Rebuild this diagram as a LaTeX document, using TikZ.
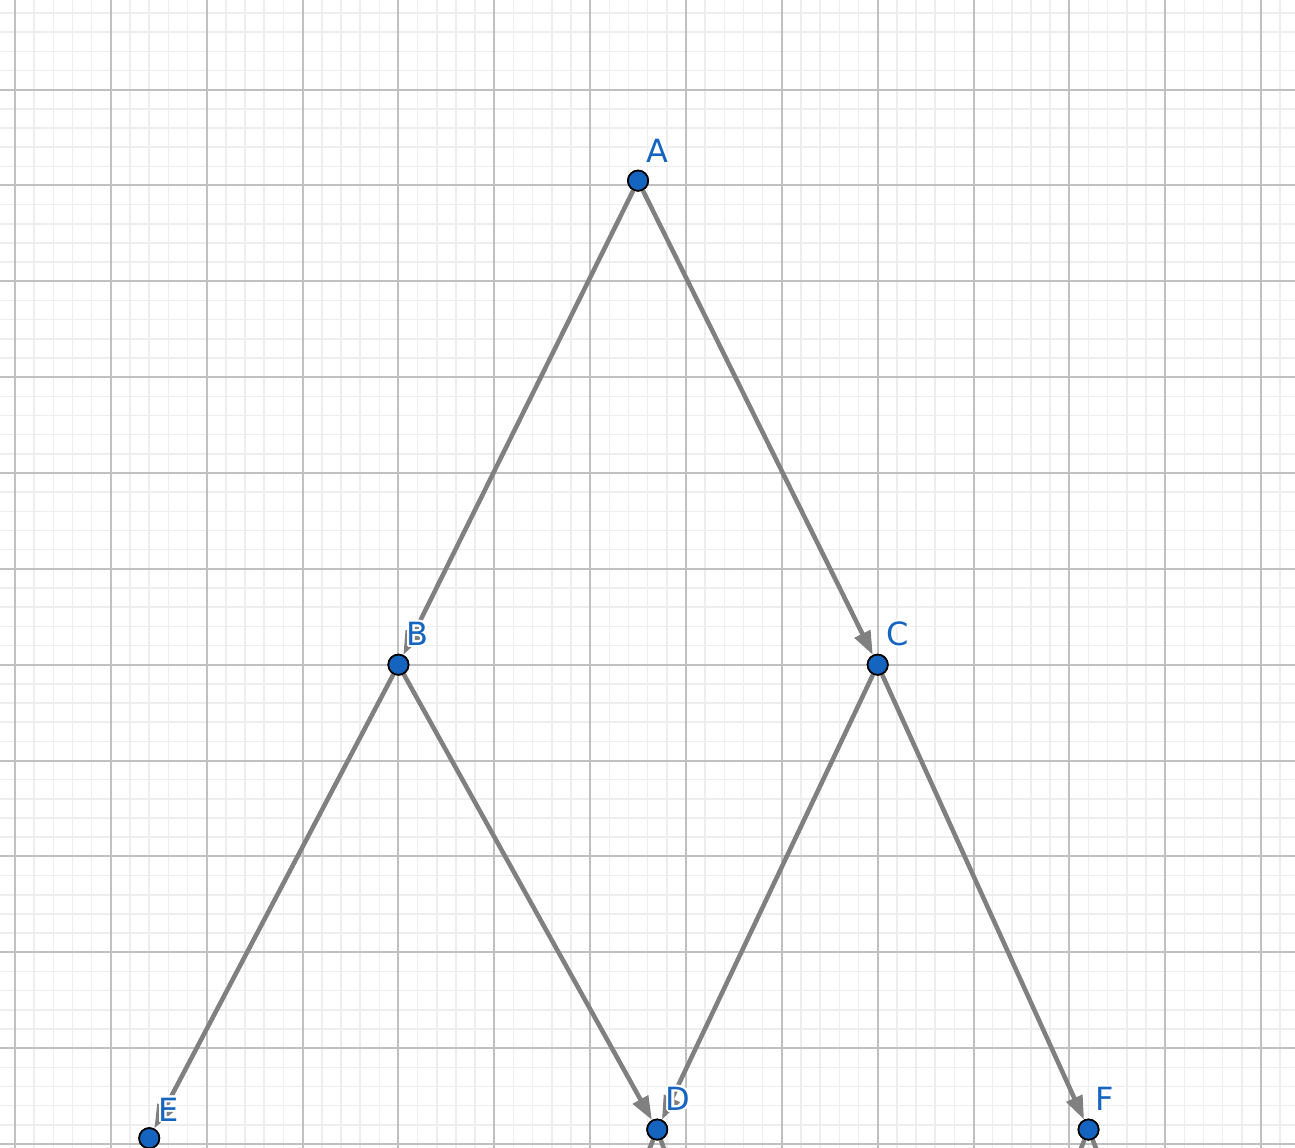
\documentclass[tikz,border=0pt]{standalone}
\usepackage{fontspec}
\setsansfont{DejaVu Sans}
\usepackage{contour}
\contourlength{0.6pt}
\usetikzlibrary{calc}
\usetikzlibrary{arrows.meta}

\definecolor{ptblue}{HTML}{1565C0}
\definecolor{edgegray}{HTML}{808080}
\definecolor{majorgray}{HTML}{C0C0C0}
\definecolor{minorgray}{HTML}{EEEEEE}

\begin{document}
\begin{tikzpicture}[
    point/.style={circle, fill=ptblue, draw=black, line width=0.5pt, minimum size=6pt, inner sep=0pt},
    lbl/.style={text=ptblue, font=\sffamily\fontsize{9.5}{11}\selectfont, inner sep=0pt},
    edge/.style={edgegray, line width=1.35pt, -{Triangle[length=7pt, width=5pt]}},
    stub/.style={edgegray, line width=1.35pt}
]

    % Constants
    \pgfmathsetmacro{\xmin}{-0.157}
    \pgfmathsetmacro{\xmax}{13.354}
    \pgfmathsetmacro{\ymin}{-0.042}
    \pgfmathsetmacro{\ymax}{11.935}

    \useasboundingbox (\xmin,\ymin) rectangle (\xmax,\ymax);
    \clip (\xmin,\ymin) rectangle (\xmax,\ymax);

    % Grid
    \fill [white] (\xmin,\ymin) rectangle (\xmax,\ymax);
    \draw [minorgray, line width=0.45pt] (-1,-1) grid[step=0.2] (14,13);
    \draw [majorgray, line width=0.6pt] (-1,-1) grid[step=1] (14,13);

    % Points
    \node [point] (A) at (6.5,10.05) {};
    \node [point] (B) at (4,5) {};
    \node [point] (C) at (9,5) {};
    \node [point] (D) at (6.7,0.15) {};
    \node [point] (E) at (1.4,0.06) {};
    \node [point] (F) at (11.2,0.15) {};

    % Edges leaving the view
    \coordinate (Dsw) at ($(D)+(-0.4,-1)$);
    \coordinate (Dse) at ($(D)+(0.35,-1)$);
    \coordinate (Fsw) at ($(F)+(-0.4,-1)$);
    \coordinate (Fse) at ($(F)+(0.4,-1)$);
    \draw [stub] (D) -- (Dsw);
    \draw [stub] (D) -- (Dse);
    \draw [stub] (F) -- (Fsw);
    \draw [stub] (F) -- (Fse);

    % Edges
    \draw [edge] (A) -- (B);
    \draw [edge] (A) -- (C);
    \draw [edge] (B) -- (E);
    \draw [edge] (B) -- (D);
    \draw [edge] (C) -- (D);
    \draw [edge] (C) -- (F);

    % Redraw points on top
    \foreach \p in {A,B,C,D,E,F}
        \node [point] at (\p) {};

    % Labels
    \node [lbl] (lA) at ($(A)+(0.2,0.3)$) {\contour{white}{A}};
    \node [lbl] (lB) at ($(B)+(0.2,0.31)$) {\contour{white}{B}};
    \node [lbl] (lC) at ($(C)+(0.21,0.31)$) {\contour{white}{C}};
    \node [lbl] (lD) at ($(D)+(0.22,0.31)$) {\contour{white}{D}};
    \node [lbl] (lE) at ($(E)+(0.2,0.29)$) {\contour{white}{E}};
    \node [lbl] (lF) at ($(F)+(0.17,0.31)$) {\contour{white}{F}};

\end{tikzpicture}
\end{document}
